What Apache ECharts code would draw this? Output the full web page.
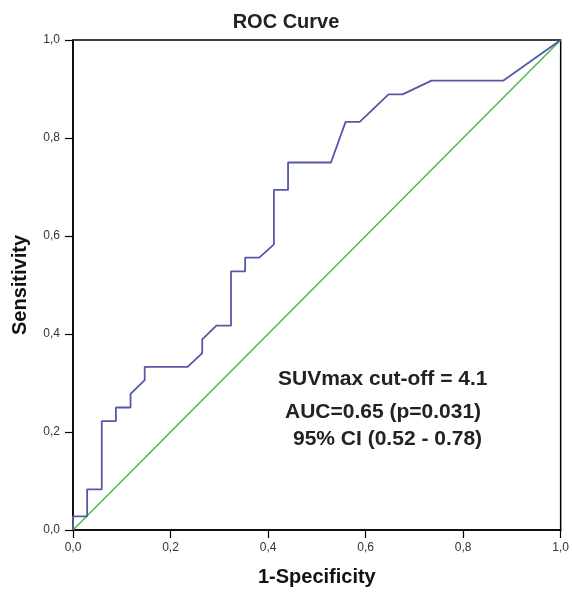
<!DOCTYPE html>
<html>
<head>
<meta charset="utf-8">
<script src="https://cdn.jsdelivr.net/npm/echarts@6/dist/echarts.min.js"></script>
<style>
html,body{margin:0;padding:0;background:#fff;}
#chart{width:572px;height:592px;}
</style>
</head>
<body>
<div id="chart"></div>
<script>
// ROC curve points (1-Specificity, Sensitivity)
var rocFpr = [0, 0, 0.029, 0.029, 0.059, 0.059, 0.088, 0.088, 0.118, 0.118, 0.147, 0.147, 0.235, 0.265, 0.265, 0.294, 0.324, 0.324, 0.353, 0.353, 0.382, 0.412, 0.412, 0.441, 0.441, 0.529, 0.559, 0.588, 0.647, 0.676, 0.735, 0.882, 1];
var rocTpr = [0, 0.028, 0.028, 0.083, 0.083, 0.222, 0.222, 0.250, 0.250, 0.278, 0.306, 0.333, 0.333, 0.361, 0.389, 0.417, 0.417, 0.528, 0.528, 0.556, 0.556, 0.583, 0.694, 0.694, 0.750, 0.750, 0.833, 0.833, 0.889, 0.889, 0.917, 0.917, 1];
// Reference line
var refX = [0, 1];
var refY = [0, 1];
var titleText = 'ROC Curve';
var xName = '1-Specificity';
var yName = 'Sensitivity';
var notes = ['SUVmax cut-off = 4.1', 'AUC=0.65 (p=0.031)', '95% CI (0.52 - 0.78)'];

var chart = echarts.init(document.getElementById('chart'), null, {renderer: 'canvas'});
var font = 'Arial, "Liberation Sans", Helvetica, sans-serif';
function fmt(v){ return v.toFixed(1).replace('.', ','); }
function zip(a, b){ return a.map(function(v, i){ return [v, b[i]]; }); }

var axisCommon = {
  type: 'value', min: 0, max: 1, interval: 0.2,
  axisLine: {show: true, onZero: false, lineStyle: {color: '#000', width: 1.5}},
  axisTick: {show: true, length: 8, lineStyle: {color: '#000', width: 1.2}},
  splitLine: {show: false},
  axisLabel: {formatter: fmt, color: '#333', fontSize: 12, fontFamily: font},
  nameLocation: 'middle',
  nameTextStyle: {color: '#111', fontSize: 20, fontWeight: 'bold', fontFamily: font}
};

chart.setOption({
  animation: false,
  backgroundColor: '#fff',
  grid: {left: 73, right: 3, top: 40, bottom: 57, show: true, borderColor: '#000', borderWidth: 1.5, backgroundColor: 'transparent'},
  xAxis: Object.assign({}, axisCommon, {name: xName, nameGap: 37,
    axisLabel: Object.assign({}, axisCommon.axisLabel, {margin: 12})}),
  yAxis: Object.assign({}, axisCommon, {name: yName, nameGap: 43,
    axisLabel: Object.assign({}, axisCommon.axisLabel, {margin: 13})}),
  series: [
    {type: 'line', data: zip(refX, refY), symbol: 'none', lineStyle: {color: '#4cb84c', width: 1.5}, z: 2},
    {type: 'line', data: zip(rocFpr, rocTpr), symbol: 'none', lineStyle: {color: '#5558a8', width: 1.8}, z: 3}
  ],
  graphic: [
    {type: 'text', left: 'center', top: 12, style: {text: titleText, font: 'bold 20px ' + font, fill: '#222'}},
    {type: 'text', left: 278, top: 369, style: {text: notes[0], font: 'bold 21px ' + font, fill: '#222'}},
    {type: 'text', left: 285, top: 402, style: {text: notes[1], font: 'bold 21px ' + font, fill: '#222'}},
    {type: 'text', left: 293, top: 429, style: {text: notes[2], font: 'bold 21px ' + font, fill: '#222'}}
  ]
});
</script>
</body>
</html>
